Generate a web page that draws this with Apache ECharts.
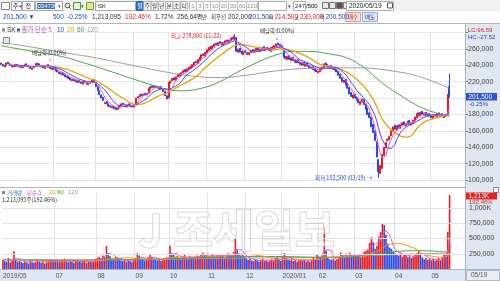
<!DOCTYPE html>
<html><head><meta charset="utf-8">
<script src="https://cdn.jsdelivr.net/npm/echarts@6/dist/echarts.min.js"></script>
<style>html,body{margin:0;padding:0;background:#fff}#c{width:500px;height:281px}</style>
</head><body><div id="c"></div>
<script>
// ---------------- DATA (prices in thousand KRW, volume in thousand shares) ----------------
const monthLabelIdx = [0,29,52,73,92,113,134,154,174,194,216,236];
const monthLabels = ['2019/05','07','08','09','10','11','12','2020/01','02','03','04','05'];

const closes = [
 241,239,240,243,242,240,238,240,241,239,
 238,237,239,241,240,238,236,237,239,242,241,240,238,237,239,240,238,236,237,
 235,233,232,230,231,228,226,227,224,222,223,221,220,222,219,218,220,219,217,218,220,222,219,
 214,209,204,200,197,195,193,190,189,190,187,186,189,191,193,192,190,192,191,190,189,
 191,200,202,204,203,205,204,206,212,214,213,215,213,212,214,211,208,203,199,
 219,221,224,222,226,229,227,231,234,232,236,238,236,241,244,243,247,250,253,252,256,
 259,262,260,264,266,265,268,267,265,268,270,269,271,273,272,276,257,260,256,254,257,
 255,253,256,258,257,259,261,258,260,262,259,261,260,258,262,263,264,266,265,263,
 261,250,248,251,247,249,246,244,246,243,241,243,240,242,239,237,238,235,233,232,
 233,236,238,242,240,238,239,236,237,234,232,228,224,220,222,216,212,205,202,204,
 200,197,194,196,199,192,186,180,176,165,158,148,128,110,118,131,140,146,150,153,160,165,
 162,166,164,168,170,167,169,172,168,170,173,177,181,179,183,180,182,179,181,178,
 176,179,178,181,179,180,177,179,178,202,201.5
];
const opens = [
 243,241,238,240,244,242,240,238,239,241,
 240,239,237,239,242,240,238,235,237,239,243,242,240,239,236,238,241,238,235,
 238,236,234,232,229,231,229,225,227,225,221,223,222,219,222,220,217,221,219,216,218,219,223,
 219,214,209,204,201,193,196,193,191,188,190,189,186,188,190,194,192,189,193,192,191,
 189,192,200,202,205,203,206,204,206,211,215,213,215,214,211,214,211,208,203,
 200,218,221,225,222,226,230,227,231,235,232,235,239,237,240,245,242,246,249,254,251,
 255,258,263,260,263,267,264,269,268,264,267,271,268,270,274,271,274,256,261,257,253,
 258,256,253,255,259,256,258,262,257,259,263,258,262,261,257,261,262,263,267,266,
 264,258,251,247,252,246,250,247,243,247,244,240,244,239,243,240,236,239,236,234,
 231,232,235,237,243,241,237,240,235,238,235,233,229,225,219,223,217,213,207,200,
 205,201,198,192,195,198,193,188,182,177,168,160,147,125,108,114,130,139,148,149,154,159,
 167,161,167,163,167,171,166,168,173,167,169,172,176,182,178,184,179,183,178,181,
 179,175,180,177,182,178,181,176,180,179,214.5
];
// wick extremes that were readable on the picture: [index, value]
const highMarks = [[128,278],[245,205],[246,230]];
const lowMarks = [[207,102.5],[246,200.5]];

const volumes = [
 150,130,120,180,110,140,290,160,120,130,
 120,100,130,110,90,140,120,100,110,150,130,100,120,90,110,130,160,120,140,
 130,150,110,120,140,170,130,110,150,120,100,130,140,120,110,130,150,100,120,140,110,130,170,
 180,200,170,220,190,380,260,210,170,150,200,180,160,140,130,150,120,140,130,110,150,
 180,260,220,170,150,140,160,190,250,200,170,150,140,160,130,150,170,190,180,
 380,260,240,200,220,180,170,200,230,190,160,210,180,170,200,220,190,240,270,230,250,
 220,200,240,210,190,230,200,250,220,180,210,260,240,230,280,490,330,260,220,240,200,
 180,150,170,140,130,160,150,120,140,170,130,150,120,140,160,130,180,210,150,130,
 200,260,180,150,140,170,130,150,120,140,160,130,150,120,140,110,160,190,150,230,
 200,180,220,690,300,190,160,150,170,140,160,200,270,230,180,250,210,270,240,200,
 230,210,250,190,220,280,300,320,430,520,440,330,380,530,610,754,720,560,420,350,330,280,
 260,240,220,270,200,230,250,190,210,180,200,230,260,300,240,190,160,180,150,170,
 140,170,130,150,180,140,200,250,230,606,1213.095
];
// long moving averages: [index, value]
const ma60Pts = [[0,264],[15,258],[33,251],[50,240],[65,229],[80,218],[92,210],[100,209],[110,212],[120,220],[130,232],[140,243],[150,252],[160,257],[170,257],[180,254],[190,249],[200,236],[205,226],[210,217],[220,202],[230,189],[240,181],[246,178]];
const ma120Pts = [[0,268],[15,263],[33,256],[50,250],[70,241],[90,232],[109,226],[120,225],[135,228],[150,233],[165,236],[180,237],[195,237],[205,236],[215,233],[225,229],[235,222],[246,212]];
const volMa60Pts = [[0,150],[30,140],[60,150],[90,165],[120,195],[150,205],[180,190],[200,215],[215,285],[230,300],[246,275]];
const volMa120Pts = [[0,160],[60,150],[120,175],[180,195],[210,230],[246,262]];

const priceTicks = {min:100000, max:280000, step:20000};
const volTicks = {min:0, max:1250000, step:250000};
const SLOTS = 255; // 247 trading days + empty space on the right

// ---------------- BUILD ----------------
const K = 1000;
const cats = []; for (let i=0;i<SLOTS;i++) cats.push(String(i));
const hiMap = new Map(highMarks), loMap = new Map(lowMarks);
const candles = closes.map((c,i)=>{
  const o = opens[i];
  const hi = hiMap.has(i) ? hiMap.get(i) : Math.max(o,c);
  const lo = loMap.has(i) ? loMap.get(i) : Math.min(o,c);
  return [o*K, c*K, lo*K, hi*K];
});
function sma(arr,n){ return arr.map((_,i)=>{ if(i<n-1) return '-'; let s=0; for(let j=i-n+1;j<=i;j++) s+=arr[j]; return s/n*K; }); }
const pts = a => a.map(p=>[p[0], p[1]*K]);
const volBars = volumes.map((v,i)=>({value:v*K, itemStyle:{color: (i>0 && v<volumes[i-1]) ? '#2a4cf0' : '#f01c1c'}}));
const monthSet = new Set(monthLabelIdx);
const fmt = n => Math.round(n).toLocaleString('en-US');

const F = 'Liberation Sans, Noto Sans CJK KR, sans-serif';
const FN = 'Liberation Sans Narrow, Liberation Sans, sans-serif';
const KF = 'Noto Sans CJK KR, Liberation Sans, sans-serif';
const T = (x,y,text,fill,size,extra) => ({type:'text', x, y, silent:true, z:50, style:Object.assign({text, fill, fontSize:size||6, fontFamily:KF, textVerticalAlign:'middle'}, extra||{})});
const N = (x,y,text,fill,size,extra) => T(x,y,text,fill,size,Object.assign({fontFamily:F},extra||{}));
const NN = (x,y,text,fill,size,extra) => T(x,y,text,fill,size,Object.assign({fontFamily:FN},extra||{}));
const R = (x,y,w,h,fill,stroke,z) => ({type:'rect', silent:true, z: z===undefined?40:z, shape:{x,y,width:w,height:h}, style:{fill, stroke: stroke||null, lineWidth:1}});
const L = (x1,y1,x2,y2,stroke,z) => ({type:'line', silent:true, z: z===undefined?45:z, shape:{x1,y1,x2,y2}, style:{stroke, lineWidth:1}});

const gfx = [];
// background panels
gfx.push(R(465,24,35,257,'#dfe7f3',null,-5));
gfx.push(R(0,269,465,12,'#dfe7f3',null,-5));
// header rows
gfx.push(R(0,0,500,11.5,'#f1f1f1',null,40));
gfx.push(R(0,11.5,500,12,'#ffffff',null,40));
gfx.push(L(0,23.5,500,23.5,'#b5b5b5'));
// row 1 widgets
gfx.push(R(1.5,2.5,8,7,'#ffffff','#8a8a8a'));
gfx.push(R(11.5,1.5,10,9,'#ffffff','#a8a8a8')); gfx.push(T(13,6,'주','#222',6)); gfx.push(T(18.5,6,'▾','#444',5));
gfx.push(R(22.5,1.5,12,9,'#ffffff','#a8a8a8')); gfx.push(T(25.5,6,'전','#222',6));
gfx.push(R(35.5,1.5,27,9,'#ffffff','#a8a8a8')); gfx.push(R(37,3,18,6,'#3b6fd0',null,46)); gfx.push(NN(37.5,6,'034730','#ffffff',6));
gfx.push(T(58,6,'▾','#444',5));
gfx.push({type:'circle',silent:true,z:46,shape:{cx:67.5,cy:5.5,r:2.3},style:{fill:'none',stroke:'#555',lineWidth:1}});
gfx.push(L(69,7,70.8,8.8,'#555',46));
gfx.push(R(73.5,2.5,7,7,'#e8f4e0','#4a9a3a')); gfx.push(T(81,6,'▾','#444',5));
gfx.push(R(86.5,2.5,7,7,'#d8ef9a','#7aa020'));
gfx.push(R(95.5,1.5,40,9,'#ffffff','#a8a8a8')); gfx.push(N(98,6,'SK','#222',6));
const tabs = ['일','주','월','년','분','초','틱'];
tabs.forEach((t,k)=>{ const x=136.5+k*7.3; gfx.push(R(x,1.5,7,9,k===0?'#3f79d8':'#fafafa',k===0?'#2c5cb0':'#b0b0b0')); gfx.push(T(x+3.5,6,t,k===0?'#fff':'#333',5.5,{textAlign:'center'})); });
const nums = ['1','3','5','10','20','30','60','120'];
const nx = [189.5,196.5,203.5,210.5,219.5,228.5,237.5,246.5], nw=[7,7,7,9,9,9,9,11];
nums.forEach((t,k)=>{ gfx.push(R(nx[k],1.5,nw[k],9,'#fafafa','#c0c0c0')); gfx.push(NN(nx[k]+nw[k]/2,6,t,'#9a9a9a',6,{textAlign:'center'})); });
gfx.push(R(258.5,1.5,28,9,'#ffffff','#b0b0b0')); gfx.push(T(288,6,'▾','#444',5));
gfx.push(R(293.5,1.5,12,9,'#ffffff','#b0b0b0')); gfx.push(NN(295,6,'247','#222',6)); gfx.push(NN(306,6,'/500','#222',6));
[322,329,336,343].forEach((x,k)=>{ gfx.push(R(x+0.5,2.5,6,6,k===2?'#555':'#e8e8e8','#777')); });
gfx.push(R(346.5,1.5,47,9,'#ffffff','#b0b0b0')); gfx.push(NN(349,6,'2020/05/19','#222',6.5));
gfx.push(R(387.5,3,5,5,'#ffffff','#555'));
// row 2 quote line
const r2 = 17;
gfx.push(NN(3,r2,'201,500 ▼','#2046d8',6.5));
gfx.push(NN(53,r2,'500','#2046d8',6.5));
gfx.push(NN(67,r2,'-0.25%','#2046d8',6.5));
gfx.push(NN(92,r2,'1,213,095','#333',6.5));
gfx.push(NN(125,r2,'192.46%','#e02020',6.5));
gfx.push(NN(155,r2,'1.72%','#333',6.5));
gfx.push(NN(177,r2,'256,647','#333',6.5)); gfx.push(T(197,r2,'백만','#333',5.5));
gfx.push(T(211,r2,'최우선','#333',5.5));
gfx.push(NN(228,r2,'202,000','#333',6.5));
gfx.push(NN(249,r2,'201,500','#2046d8',6.5));
gfx.push(T(268.5,r2,'시','#333',5.5)); gfx.push(NN(274.5,r2,'214,500','#e02020',6.5));
gfx.push(T(294,r2,'고','#333',5.5)); gfx.push(NN(300,r2,'230,000','#e02020',6.5));
gfx.push(T(319.5,r2,'저','#333',5.5)); gfx.push(NN(325.5,r2,'200,500','#2046d8',6.5));
gfx.push(R(345.5,12.5,15,9,'#f9dede','#d89a9a')); gfx.push(T(353,r2,'매수','#b02020',5.5,{textAlign:'center'}));
gfx.push(R(362.5,12.5,15,9,'#dfe8fa','#98a9d6')); gfx.push(T(370,r2,'매도','#2040a0',5.5,{textAlign:'center'}));
// panel frames
gfx.push(L(0,187.5,465,187.5,'#b5b5b5'));
gfx.push(L(465.5,24,465.5,281,'#a8b4c6'));
gfx.push(L(0,269.5,500,269.5,'#a8b4c6'));
// price legend
gfx.push(R(2,28.5,3,3,'#888',null)); gfx.push(N(7,30,'SK','#333',6.5));
gfx.push(R(17,28.5,3,3,'#3a5fd0',null));
gfx.push(T(21.5,30,'종가 단순 5','#c43fc4',6.5));
gfx.push(N(57,30,'10','#2f4fe0',6.5));
gfx.push(N(67,30,'20','#e8a000',6.5));
gfx.push(N(77,30,'60','#3a9a3a',6.5));
gfx.push(N(87,30,'120','#9a9a9a',6.5));
gfx.push(R(3.5,37.5,6,6,'#e9e9e9','#8a8a8a'));
// annotations
gfx.push(T(32,53,'배당락(0.00%)','#333',5.5));
gfx.push(N(50,59,'↓','#e02020',7,{textAlign:'center'}));
gfx.push(T(171,36,'최고 278,000 (11/22)','#e02020',5.5));
gfx.push(T(260,31,'배당락(0.00%)','#333',5.5));
gfx.push(N(277,38,'↓','#e02020',7,{textAlign:'center'}));
gfx.push(T(315,178,'최저 102,500 (03/19) →','#2046d8',5.5));
// right column extras
gfx.push(N(468,30,'LC:96.59','#e02020',6));
gfx.push(N(468,37,'HC:-27.52','#2046d8',6));
gfx.push(R(466,93,31,7.5,'#2f52d8',null,48)); gfx.push(N(468.5,96.8,'201,500','#ffffff',6.5));
gfx.push(N(469,104,'-0.25%','#2046d8',6));
gfx.push(R(466,192.5,31,7,'#e82020',null,48)); gfx.push(N(468.5,196,'1,213K','#ffffff',6.5));
gfx.push(N(469,202.5,'192.46%','#e02020',6));
gfx.push(R(493.5,187.5,5,5,'#ffffff','#888'));
gfx.push(R(466.5,270.5,33,10,'#e8eef7','#b0bccd')); gfx.push(N(471,275.5,'05/19','#555',6.5));
// volume legend
gfx.push(R(2,191,3,3,'#888',null));
gfx.push(T(7,192.5,'거래량','#2a6ac8',5.5));
gfx.push(T(27,192.5,'단순 5','#c43fc4',5.5));
gfx.push(N(49,192.5,'20','#e8a000',6));
gfx.push(N(57,192.5,'60','#3a9a3a',6));
gfx.push(N(68,192.5,'120','#9a9a9a',6));
gfx.push(T(2,199.5,'1,213,095주(192.46%)','#333',5.5));
// watermark
gfx.push({type:'text',silent:true,z:30,x:138,y:230,style:{text:'J 조세일보',fill:'rgba(255,255,255,0.55)',stroke:'rgba(160,160,160,0.55)',lineWidth:1,fontSize:44,fontWeight:'bold',fontFamily:KF,textVerticalAlign:'middle'}});

const option = {
  animation:false,
  backgroundColor:'#ffffff',
  graphic: gfx,
  grid:[
    {left:0, top:32.6, width:465, height:147.4, containLabel:false},
    {left:0, top:192.75, width:465, height:76.25, containLabel:false}
  ],
  xAxis:[
    {type:'category', gridIndex:0, data:cats, boundaryGap:true, axisLine:{show:false}, axisTick:{show:false}, axisLabel:{show:false},
     splitLine:{show:true, interval:(i)=>monthSet.has(i)&&i>0, lineStyle:{color:'#e2e2e2',width:1}}},
    {type:'category', gridIndex:1, data:cats, boundaryGap:true, axisLine:{show:false}, axisTick:{show:false},
     axisLabel:{show:true, interval:(i)=>monthSet.has(i), formatter:(v)=>monthLabels[monthLabelIdx.indexOf(Number(v))]||'', color:'#555', fontSize:6.5, fontFamily:F, align:'left', margin:4},
     splitLine:{show:true, interval:(i)=>monthSet.has(i)&&i>0, lineStyle:{color:'#e2e2e2',width:1}}}
  ],
  yAxis:[
    {type:'value', gridIndex:0, position:'right', min:priceTicks.min, max:priceTicks.max, interval:priceTicks.step,
     axisLine:{show:false}, axisTick:{show:true, length:3, lineStyle:{color:'#777'}},
     axisLabel:{margin:3, color:'#444', fontSize:7, fontFamily:F, formatter:v=>v===priceTicks.max?'':fmt(v)},
     splitLine:{show:true, lineStyle:{color:'#e6e6e6'}}},
    {type:'value', gridIndex:1, position:'right', min:volTicks.min, max:volTicks.max, interval:volTicks.step,
     axisLine:{show:false}, axisTick:{show:false},
     axisLabel:{margin:4, color:'#444', fontSize:7, fontFamily:F, formatter:v=>(v===0||v===volTicks.max)?'':(v===1000000?'1,000K':fmt(v))},
     splitLine:{show:false}}
  ],
  series:[
    {type:'candlestick', xAxisIndex:0, yAxisIndex:0, data:candles, barWidth:1.5, z:2,
     itemStyle:{color:'#f01818', color0:'#2448f0', borderColor:'#f01818', borderColor0:'#2448f0', borderWidth:1}},
    {type:'line', xAxisIndex:0, yAxisIndex:0, data:pts(ma120Pts), smooth:0.4, showSymbol:false, z:3, lineStyle:{color:'#9c9c9c',width:1}},
    {type:'line', xAxisIndex:0, yAxisIndex:0, data:pts(ma60Pts), smooth:0.4, showSymbol:false, z:3, lineStyle:{color:'#48a848',width:1}},
    {type:'line', xAxisIndex:0, yAxisIndex:0, data:sma(closes,20), showSymbol:false, z:4, lineStyle:{color:'#eaa300',width:1.3}},
    {type:'line', xAxisIndex:0, yAxisIndex:0, data:sma(closes,10), showSymbol:false, z:4, lineStyle:{color:'#4a4ae8',width:1}},
    {type:'line', xAxisIndex:0, yAxisIndex:0, data:sma(closes,5), showSymbol:false, z:4, lineStyle:{color:'#ee55cc',width:1}},
    {type:'bar', xAxisIndex:1, yAxisIndex:1, data:volBars, barWidth:1.6, z:2,
     markLine:{silent:true, symbol:'none', label:{show:false}, lineStyle:{color:'#e2e2e2',type:'solid',width:1},
       data:[{yAxis:250000},{yAxis:500000},{yAxis:750000},{yAxis:1000000}]}},
    {type:'line', xAxisIndex:1, yAxisIndex:1, data:pts(volMa120Pts), smooth:0.4, showSymbol:false, z:3, lineStyle:{color:'#a0a0a0',width:1}},
    {type:'line', xAxisIndex:1, yAxisIndex:1, data:pts(volMa60Pts), smooth:0.4, showSymbol:false, z:3, lineStyle:{color:'#48a848',width:1}},
    {type:'line', xAxisIndex:1, yAxisIndex:1, data:sma(volumes,20), showSymbol:false, z:3, lineStyle:{color:'#eaa300',width:1}},
    {type:'line', xAxisIndex:1, yAxisIndex:1, data:sma(volumes,5), showSymbol:false, z:3, lineStyle:{color:'#ee55cc',width:1}}
  ]
};
const chart = echarts.init(document.getElementById('c'));
chart.setOption(option);
</script>
</body></html>
